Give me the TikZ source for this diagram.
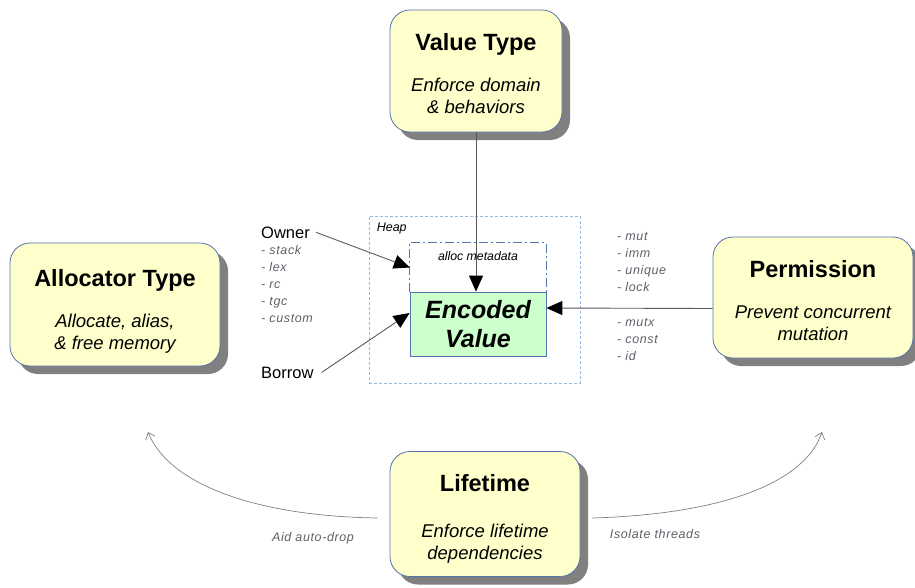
\documentclass[tikz,border=0pt]{standalone}
\usepackage{fontspec}
\setmainfont{Liberation Sans}
\usetikzlibrary{calc,arrows.meta,positioning,shadows}
\definecolor{boxfill}{RGB}{255,255,204}
\definecolor{boxline}{RGB}{84,116,170}
\definecolor{encfill}{RGB}{204,255,204}
\definecolor{heapline}{RGB}{150,185,222}
\definecolor{notegray}{RGB}{95,95,105}
% optional arg: strut height, pushes the card text down
\newcommand\cardtitle[2][23pt]{\rule{0pt}{#1}{\fontsize{23.5}{27}\selectfont\bfseries\upshape #2}}

\begin{document}
\begin{tikzpicture}[x=1pt,y=-1pt,
      every node/.style={font=\fontsize{16.5}{19}\selectfont,inner sep=0pt},
      card/.style={draw=boxline,line width=0.8pt,fill=boxfill,rounded corners=20pt,align=center,
        font=\fontsize{18.5}{22}\selectfont\itshape,
        drop shadow={shadow xshift=8pt,shadow yshift=-8pt,fill=black!50,opacity=1}},
      note/.style={align=left,font=\fontsize{12.5}{17}\selectfont\itshape\addfontfeatures{LetterSpace=5},text=notegray},
      ptr/.style={draw=black!65,line width=0.9pt,-{Triangle[length=16pt,width=14pt,black]}},
      drift/.style={draw=black!50,line width=0.7pt,-{Straight Barb[length=6pt,width=10pt]}}]
  \useasboundingbox (0,0) rectangle (915,587);

  % lifetime feeds the two side concerns
  \node[card,minimum width=190pt,minimum height=125pt] (life) at (485,514)
    {\cardtitle[26pt]{Lifetime}\\[24pt]Enforce lifetime\\dependencies};
  \coordinate (dropend) at (148,432);
  \coordinate (threadend) at (822,432);
  \draw[drift] ([shift={(-12,4)}]life.west) .. controls (250,516) and (168,482) .. (dropend);
  \draw[drift] ([shift={(12,4)}]life.east) .. controls (725,514) and (805,482) .. (threadend);
  \node[note] (droplabel) at (313,538) {Aid auto-drop};
  \node[note] (threadlabel) at (655,534) {Isolate threads};

  % the other three concerns
  \node[card,minimum width=172pt,minimum height=122pt] (vtype) at (476,71)
    {\cardtitle{Value Type}\\[19pt]Enforce domain\\\& behaviors};
  \node[card,minimum width=210pt,minimum height=123pt] (alloc) at (115,304.5)
    {\cardtitle[31pt]{Allocator Type}\\[19pt]Allocate, alias,\\\& free memory};
  \node[card,minimum width=200pt,minimum height=121pt] (perm) at (813,297.5)
    {\cardtitle{Permission}\\[19pt]Prevent concurrent\\mutation};

  % heap region with the stored value
  \node[draw=heapline,line width=0.8pt,dash pattern=on 3pt off 2pt,minimum width=211pt,minimum height=167pt] (heap) at (474.5,299.5) {};
  \node[anchor=north west,font=\fontsize{12.5}{14}\selectfont\itshape] (heapname) at ([shift={(8,7)}]heap.north west) {Heap};
  \node[minimum width=136pt,minimum height=49pt] (meta) at (478,267.5) {};
  \draw[draw=boxline,line width=0.8pt,dash pattern=on 9pt off 3pt on 2pt off 3pt]
    (meta.south west) |- (meta.north) -| (meta.south east);
  \node[font=\fontsize{12.3}{14}\selectfont\itshape] (metatext) at (478,256) {alloc metadata};
  \node[draw=boxline,line width=0.8pt,fill=encfill,minimum width=136pt,minimum height=64pt,align=center,
    font=\fontsize{25}{29}\selectfont\bfseries\itshape] (enc) at (478,324) {Encoded\\Value};

  % owners, borrows and permission kinds
  \node[anchor=base west] (owner) at (261,238) {Owner};
  \node[note,anchor=north west] (ownerkinds) at (261,245) {- stack\\- lex\\- rc\\- tgc\\- custom};
  \node[anchor=base west] (borrow) at (261,378) {Borrow};
  \node[note,anchor=north west] (permkinds) at (617,232) {- mut\\- imm\\- unique\\- lock};
  \node[note,anchor=north west] (permshared) at (617,318) {- mutx\\- const\\- id};

  \draw[ptr] ([xshift=6pt]owner.east) -- (meta.west);
  \draw[ptr] ([xshift=8pt]borrow.east) -- ([yshift=11pt]enc.west);
  \draw[ptr] ([yshift=-11pt]perm.west) -- ([yshift=16pt]enc.east);
  \draw[ptr] (vtype.south) -- (vtype.south |- enc.north);
\end{tikzpicture}
\end{document}
